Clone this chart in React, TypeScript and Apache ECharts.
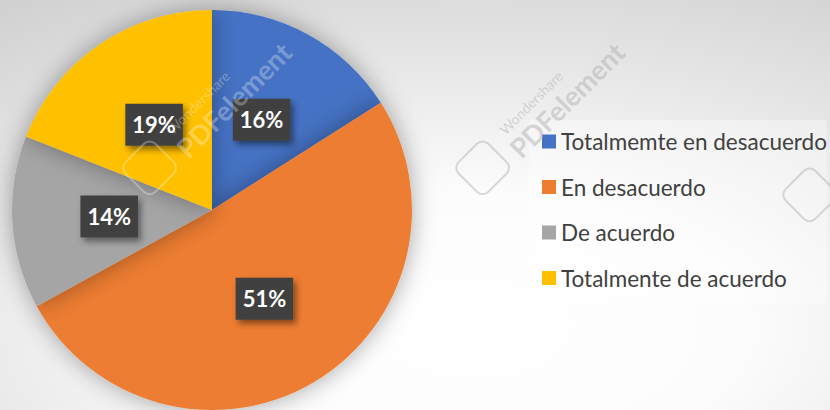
import React, { useEffect, useRef } from "react";
import * as echarts from "echarts";

const categories = [
  "Totalmemte en desacuerdo",
  "En desacuerdo",
  "De acuerdo",
  "Totalmente de acuerdo",
];
const percentages = [16, 51, 14, 19];
const colors = ["#4472C4", "#ED7D31", "#A5A5A5", "#FFC000"];

const FONT = "Lato, 'Open Sans', sans-serif";

function watermark(x: number, y: number, col: string, withText: boolean) {
  const children: any[] = [
    {
      type: "rect",
      z: 100,
      x: -60,
      y: -32,
      shape: { width: 42, height: 42, r: 8 },
      style: { fill: "none", stroke: col, lineWidth: 2 },
    },
  ];
  if (withText) {
    children.push(
      {
        type: "text",
        z: 100,
        x: 0,
        y: -30,
        style: { text: "Wondershare", fill: col, font: `14px ${FONT}` },
      },
      {
        type: "text",
        z: 100,
        x: -6,
        y: -13,
        style: { text: "PDFelement", fill: col, font: `bold 27px ${FONT}` },
      }
    );
  }
  return {
    type: "group",
    x,
    y,
    z: 100,
    rotation: Math.PI / 4,
    silent: true,
    children,
  };
}

export default function App() {
  const ref = useRef<HTMLDivElement>(null);
  useEffect(() => {
    if (!ref.current) return;
    const chart = echarts.init(ref.current, undefined, { renderer: "svg" });
    chart.setOption({
      animation: false,
      backgroundColor: new echarts.graphic.RadialGradient(0.57, 0.8, 1.1, [
        { offset: 0, color: "#ffffff" },
        { offset: 0.3, color: "#fcfcfc" },
        { offset: 1, color: "#c8c8c8" },
      ]),
      graphic: {
        z: 100,
        elements: [
          watermark(185, 148, "rgba(255,255,255,0.3)", true),
          watermark(518, 148, "rgba(170,170,170,0.45)", true),
          watermark(845, 175, "rgba(170,170,170,0.45)", false),
        ],
      },
      legend: {
        orient: "vertical",
        left: 529,
        top: 120,
        padding: [10, 0, 14, 13],
        backgroundColor: "rgba(255,255,255,0.35)",
        itemWidth: 14,
        itemHeight: 14,
        itemGap: 22.5,
        icon: "rect",
        textStyle: { fontSize: 22.5, color: "#404040", fontFamily: FONT },
        data: categories,
      },
      series: [
        {
          type: "pie",
          center: [212, 210],
          radius: [0, 200],
          startAngle: 90,
          clockwise: true,
          silent: true,
          itemStyle: {
            shadowBlur: 24,
            shadowColor: "rgba(0,0,0,0.35)",
          },
          label: {
            show: true,
            position: "inside",
            formatter: (p: any) => `${p.value}%`,
            color: "#ffffff",
            fontSize: 22,
            fontWeight: "bold",
            fontFamily: FONT,
            backgroundColor: "#404040",
            padding: [10, 7],
            lineHeight: 22,
            shadowColor: "rgba(0,0,0,0.45)",
            shadowBlur: 6,
            shadowOffsetX: 3,
            shadowOffsetY: 4,
          },
          labelLine: { show: false },
          data: categories.map((name, i) => ({
            name,
            value: percentages[i],
            itemStyle: { color: colors[i] },
          })),
        },
      ],
    });
    return () => chart.dispose();
  }, []);
  return (
    <div
      ref={ref}
      style={{ position: "absolute", left: 0, top: 0, width: 830, height: 410 }}
    />
  );
}
